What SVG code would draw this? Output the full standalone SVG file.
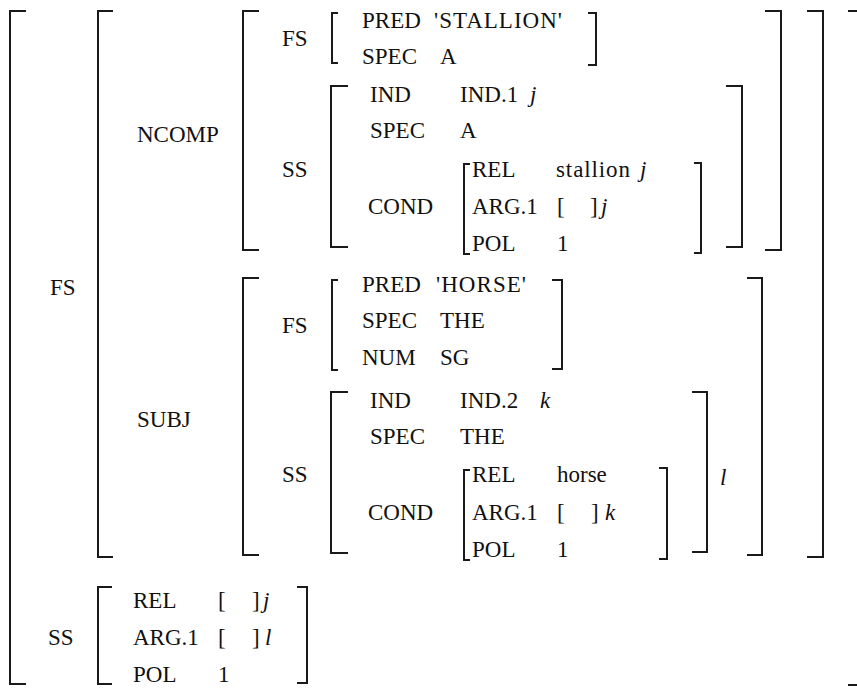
<svg xmlns="http://www.w3.org/2000/svg" width="857" height="689" viewBox="0 0 857 689">
<style>
text{font-family:"Liberation Serif","Times New Roman",serif;font-size:23px;fill:#111}
.i{font-style:italic}
.b{fill:none;stroke:#1a1a1a;stroke-width:2}
</style>
<rect width="857" height="689" fill="#fff"/>
<g id="brackets">
<path class="b" d="M26 11H10V684H26"/>
<path class="b" d="M113 11H98V557H113"/>
<path class="b" d="M259 11H243V250H259"/>
<path class="b" d="M338 13H332V63H338"/>
<path class="b" d="M348 86H331V247H348"/>
<path class="b" d="M470 164H464V254H470"/>
<path class="b" d="M259 278H243V555H259"/>
<path class="b" d="M338 280H332V370H338"/>
<path class="b" d="M348 392H331V553H348"/>
<path class="b" d="M470 470H464V560H470"/>
<path class="b" d="M112 587H98V684H112"/>
<path class="b" d="M848 11H859V685H848"/>
<path class="b" d="M807 11H823V557H807"/>
<path class="b" d="M765 11H781V250H765"/>
<path class="b" d="M588 13H596V65H588"/>
<path class="b" d="M726 86H742V247H726"/>
<path class="b" d="M694 163H701V253H694"/>
<path class="b" d="M747 278H762V555H747"/>
<path class="b" d="M552 280H562V369H552"/>
<path class="b" d="M692 392H707V552H692"/>
<path class="b" d="M659 468H667V559H659"/>
<path class="b" d="M297 587H307V683H297"/>
</g>
<g id="labels">
<text x="50" y="295">FS</text>
<text x="137" y="142">NCOMP</text>
<text x="137" y="427">SUBJ</text>
<text x="48" y="645">SS</text>
<text x="282" y="46">FS</text>
<text x="282" y="177">SS</text>
<text x="368" y="214">COND</text>
<text x="282" y="333">FS</text>
<text x="282" y="482">SS</text>
<text x="368" y="520">COND</text>
</g>
<g id="ncomp-fs">
<text x="362" y="28">PRED</text><text x="434" y="28" textLength="128" lengthAdjust="spacing">'STALLION'</text>
<text x="362" y="64">SPEC</text><text x="440" y="64">A</text>
</g>
<g id="ncomp-ss">
<text x="370" y="102">IND</text><text x="460" y="102">IND.1</text><text class="i" x="530" y="102">j</text>
<text x="370" y="138">SPEC</text><text x="460" y="138">A</text>
<text x="472" y="177">REL</text><text x="556" y="177" textLength="74" lengthAdjust="spacing">stallion</text><text class="i" x="640" y="177">j</text>
<text x="472" y="214">ARG.1</text><text x="557" y="214">[</text><text x="590" y="214">]</text><text class="i" x="601" y="214">j</text>
<text x="472" y="251">POL</text><text x="557" y="251">1</text>
</g>
<g id="subj-fs">
<text x="362" y="292">PRED</text><text x="436" y="292" textLength="90" lengthAdjust="spacing">'HORSE'</text>
<text x="362" y="328">SPEC</text><text x="440" y="328">THE</text>
<text x="362" y="365">NUM</text><text x="440" y="365">SG</text>
</g>
<g id="subj-ss">
<text x="370" y="408">IND</text><text x="460" y="408">IND.2</text><text class="i" x="540" y="408">k</text>
<text x="370" y="444">SPEC</text><text x="460" y="444">THE</text>
<text x="472" y="482">REL</text><text x="557" y="482">horse</text>
<text x="472" y="520">ARG.1</text><text x="557" y="520">[</text><text x="591" y="520">]</text><text class="i" x="605" y="520">k</text>
<text x="472" y="557">POL</text><text x="557" y="557">1</text>
<text class="i" x="720" y="485">l</text>
</g>
<g id="top-ss">
<text x="133" y="608">REL</text><text x="218" y="608">[</text><text x="252" y="608">]</text><text class="i" x="263" y="608">j</text>
<text x="133" y="645">ARG.1</text><text x="218" y="645">[</text><text x="252" y="645">]</text><text class="i" x="265" y="645">l</text>
<text x="133" y="682">POL</text><text x="218" y="682">1</text>
</g>
</svg>
